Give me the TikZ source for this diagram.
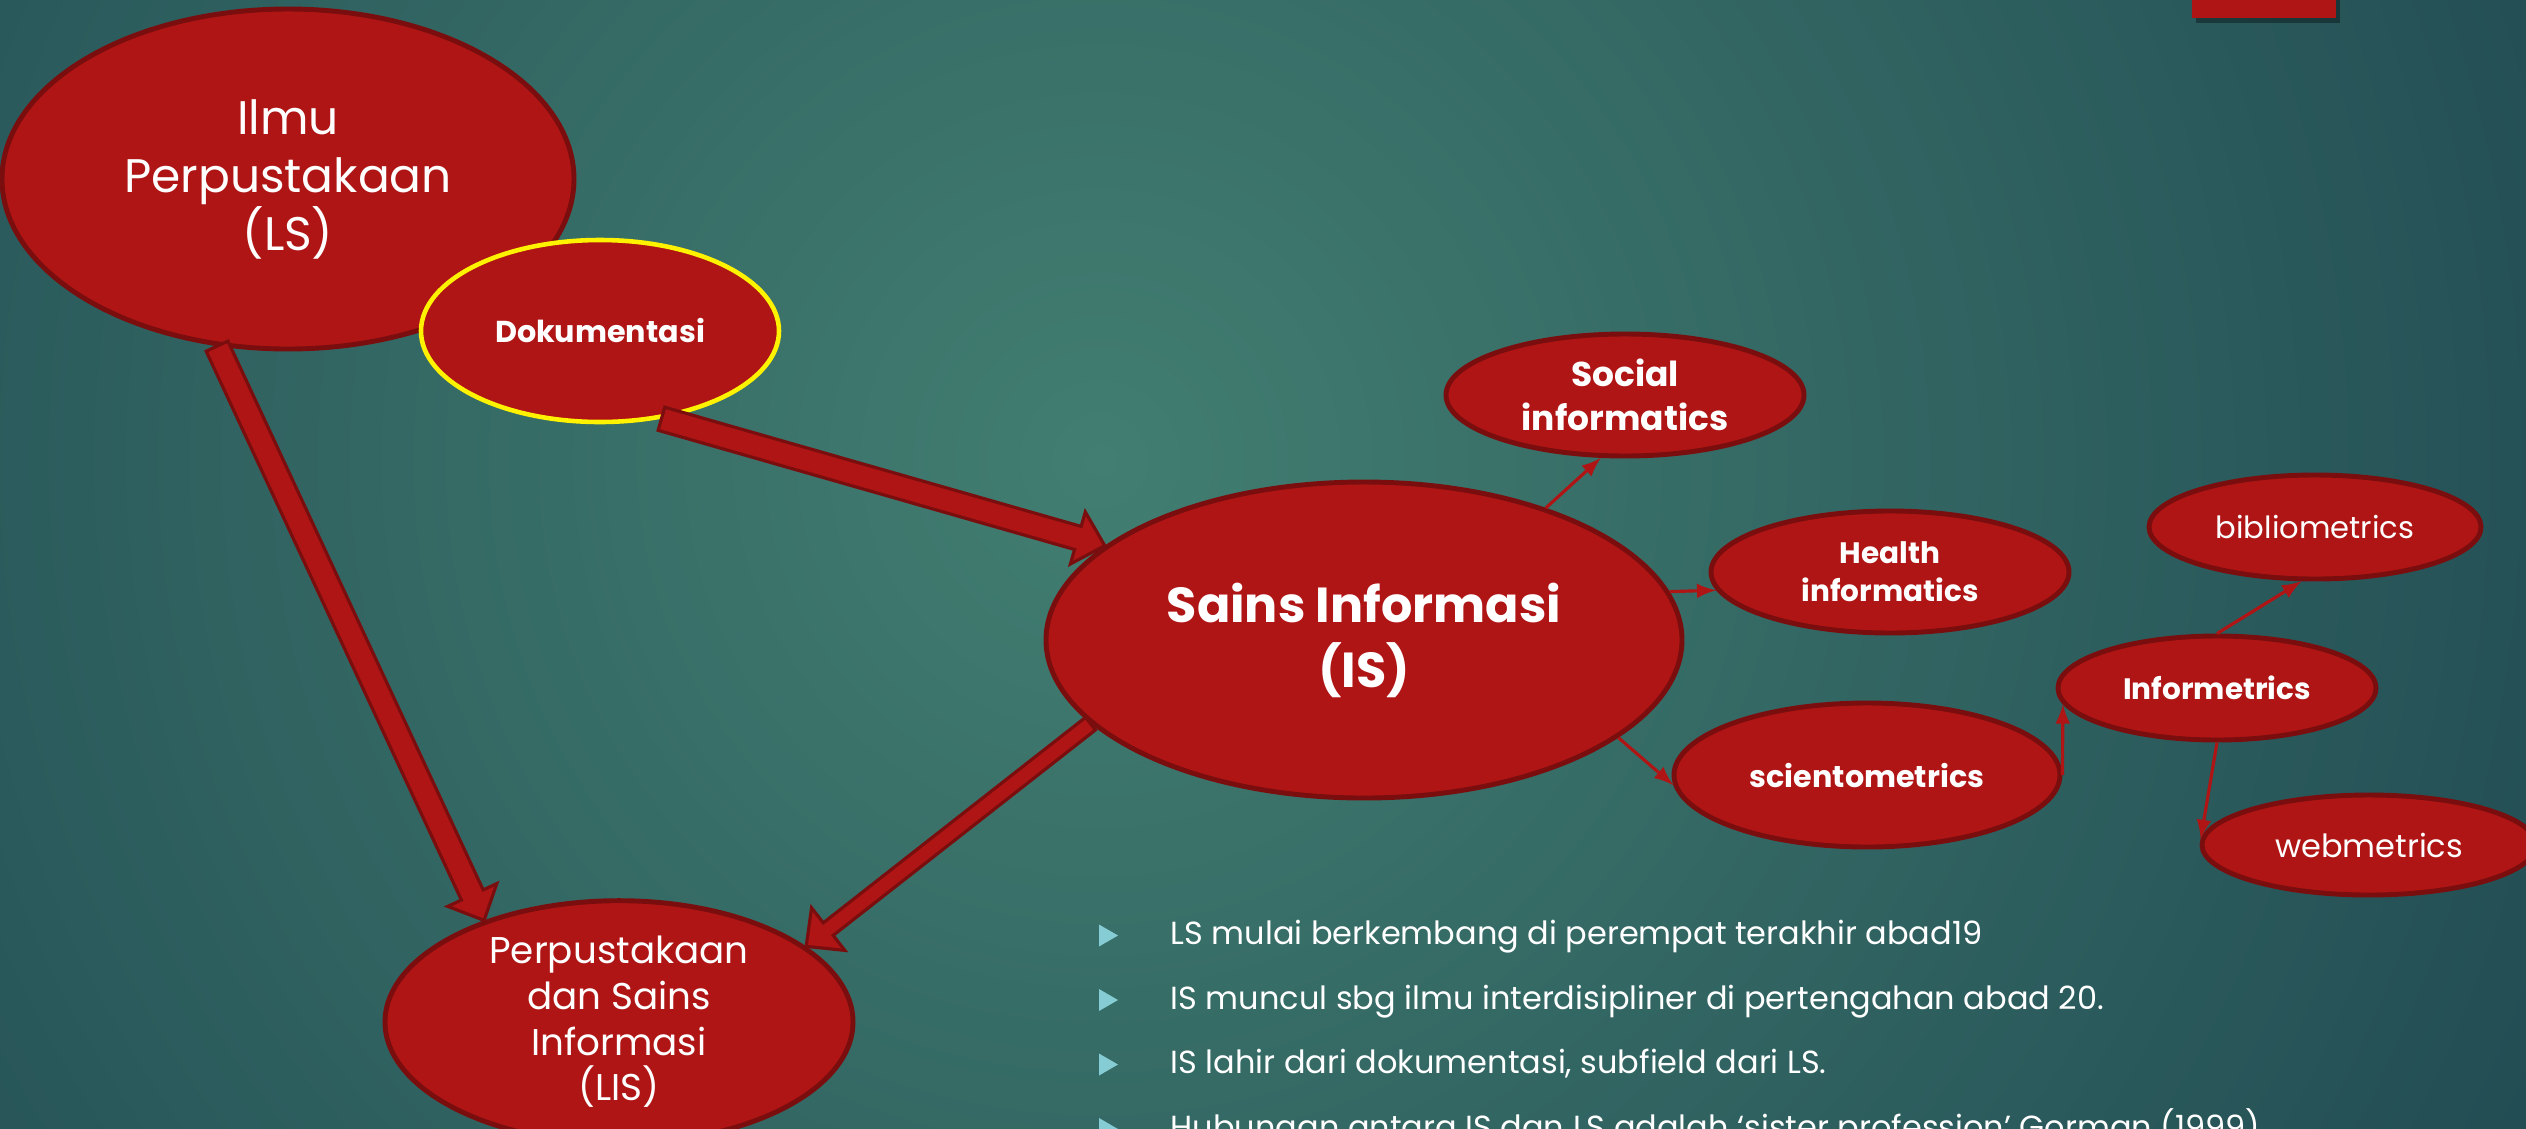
\documentclass[tikz,border=0pt]{standalone}
\usepackage{fontspec}
\setmainfont{Poppins}
\usetikzlibrary{arrows, shapes.geometric, calc}
\definecolor{isRed}{HTML}{B01515}
\definecolor{isDark}{HTML}{7A0E0E}
\definecolor{docYellow}{HTML}{FFF200}
\definecolor{bgLight}{HTML}{427E71}
\definecolor{bgDark}{HTML}{133646}
\definecolor{bulletCol}{HTML}{86CCD4}
\tikzset{
    fieldNode/.style={ellipse, draw=isDark, fill=isRed, line width=1.4pt, text=white, align=center, inner sep=0pt},
    linkArrow/.style={->, >=latex, draw=isRed, line width=0.9pt},
    blockArrow/.style={fill=isRed, draw=isDark, line width=0.9pt, line join=miter},
    bulletText/.style={anchor=base west, text=white, font=\fontsize{9.1}{11}\selectfont, inner sep=0pt},
}
\newcommand{\drawBlock}[3][0.12]{
    % 箭尾 #2, 箭头尖 #3
    \coordinate (bT) at (#2);
    \coordinate (bH) at (#3);
    \coordinate (bB) at ($(bH)!0.28cm!(bT)$);
    \draw[blockArrow] ($(bT)!#1cm!90:(bH)$) -- ($(bB)!#1cm!-90:(bT)$)
        -- ($(bB)!0.27cm!-90:(bT)$) -- (bH) -- ($(bB)!0.27cm!90:(bT)$)
        -- ($(bB)!#1cm!90:(bT)$) -- ($(bT)!#1cm!-90:(bH)$) -- cycle;
}
\newcommand{\drawLink}[2]{
    \draw[linkArrow] (#1) -- (#2);
}
\begin{document}
\begin{tikzpicture}
    \useasboundingbox (0,0) rectangle (25.26,-11.28);
    \begin{scope}
        \clip (0,0) rectangle (25.26,-11.28);
        \shade[inner color=bgLight, outer color=bgDark] (11.0,-4.6) circle (23);
    \end{scope}
    \fill[black, opacity=0.35] (21.96,0) rectangle (23.40,-0.23);
    \fill[isRed] (21.92,0) rectangle (23.36,-0.18);

    \node[fieldNode, minimum width=5.72cm, minimum height=3.40cm, font=\fontsize{13.4}{16.5}\selectfont] (LS) at (2.88,-1.79) {Ilmu\\Perpustakaan\\(LS)};
    \node[fieldNode, draw=docYellow, line width=1.3pt, minimum width=3.58cm, minimum height=1.82cm, font=\bfseries\fontsize{8.6}{10.5}\selectfont] (dok) at (6.00,-3.31) {Dokumentasi};
    \node[fieldNode, minimum width=6.36cm, minimum height=3.16cm, font=\bfseries\fontsize{14}{18.5}\selectfont] (IS) at (13.64,-6.40) {Sains Informasi\\(IS)};
    \node[fieldNode, minimum width=4.68cm, minimum height=2.40cm, font=\fontsize{10.6}{13}\selectfont] (LIS) at (6.19,-10.22) {Perpustakaan\\dan Sains\\Informasi\\(LIS)};

    \node[fieldNode, minimum width=3.58cm, minimum height=1.22cm, font=\bfseries\fontsize{9.8}{12.5}\selectfont] (social) at (16.25,-3.95) {Social\\informatics};
    \node[fieldNode, minimum width=3.58cm, minimum height=1.22cm, font=\bfseries\fontsize{8.4}{10.8}\selectfont] (health) at (18.90,-5.72) {Health\\informatics};
    \node[fieldNode, minimum width=3.86cm, minimum height=1.44cm, font=\bfseries\fontsize{8.6}{10.5}\selectfont] (scient) at (18.67,-7.75) {scientometrics};
    \node[fieldNode, minimum width=3.18cm, minimum height=1.04cm, font=\bfseries\fontsize{8.4}{10.5}\selectfont] (infor) at (22.17,-6.88) {Informetrics};
    \node[fieldNode, minimum width=3.32cm, minimum height=1.04cm, font=\fontsize{8.7}{10.5}\selectfont] (biblio) at (23.15,-5.27) {bibliometrics};
    \node[fieldNode, minimum width=3.34cm, minimum height=1.00cm, font=\fontsize{9.1}{11}\selectfont] (webm) at (23.69,-8.45) {webmetrics};

    \drawBlock{LS.247}{LIS.143}
    \drawBlock{dok.305}{IS.160}
    \drawBlock[0.08]{IS.197}{LIS.22}

    \drawLink{IS.36}{social.249}
    \drawLink{IS.9}{health.186}
    \drawLink{IS.339}{scient.183}
    \drawLink{scient.east}{infor.186}
    \drawLink{infor.north}{biblio.256}
    \drawLink{infor.south}{webm.178}

    \foreach \txt [count=\i] in {LS mulai berkembang di perempat terakhir abad19, IS muncul sbg ilmu interdisipliner di pertengahan abad 20., {IS lahir dari dokumentasi, subfield dari LS.}, Hubungan antara IS dan LS adalah ‘sister profession’ Gorman (1999)} {
        \pgfmathsetmacro{\yy}{-8.80-0.645*\i}
        \fill[bulletCol] (10.99,\yy+0.20) -- (11.18,\yy+0.09) -- (10.99,\yy-0.02) -- cycle;
        \node[bulletText] (txt\i) at (11.70,\yy) {\txt};
    }
\end{tikzpicture}
\end{document}
